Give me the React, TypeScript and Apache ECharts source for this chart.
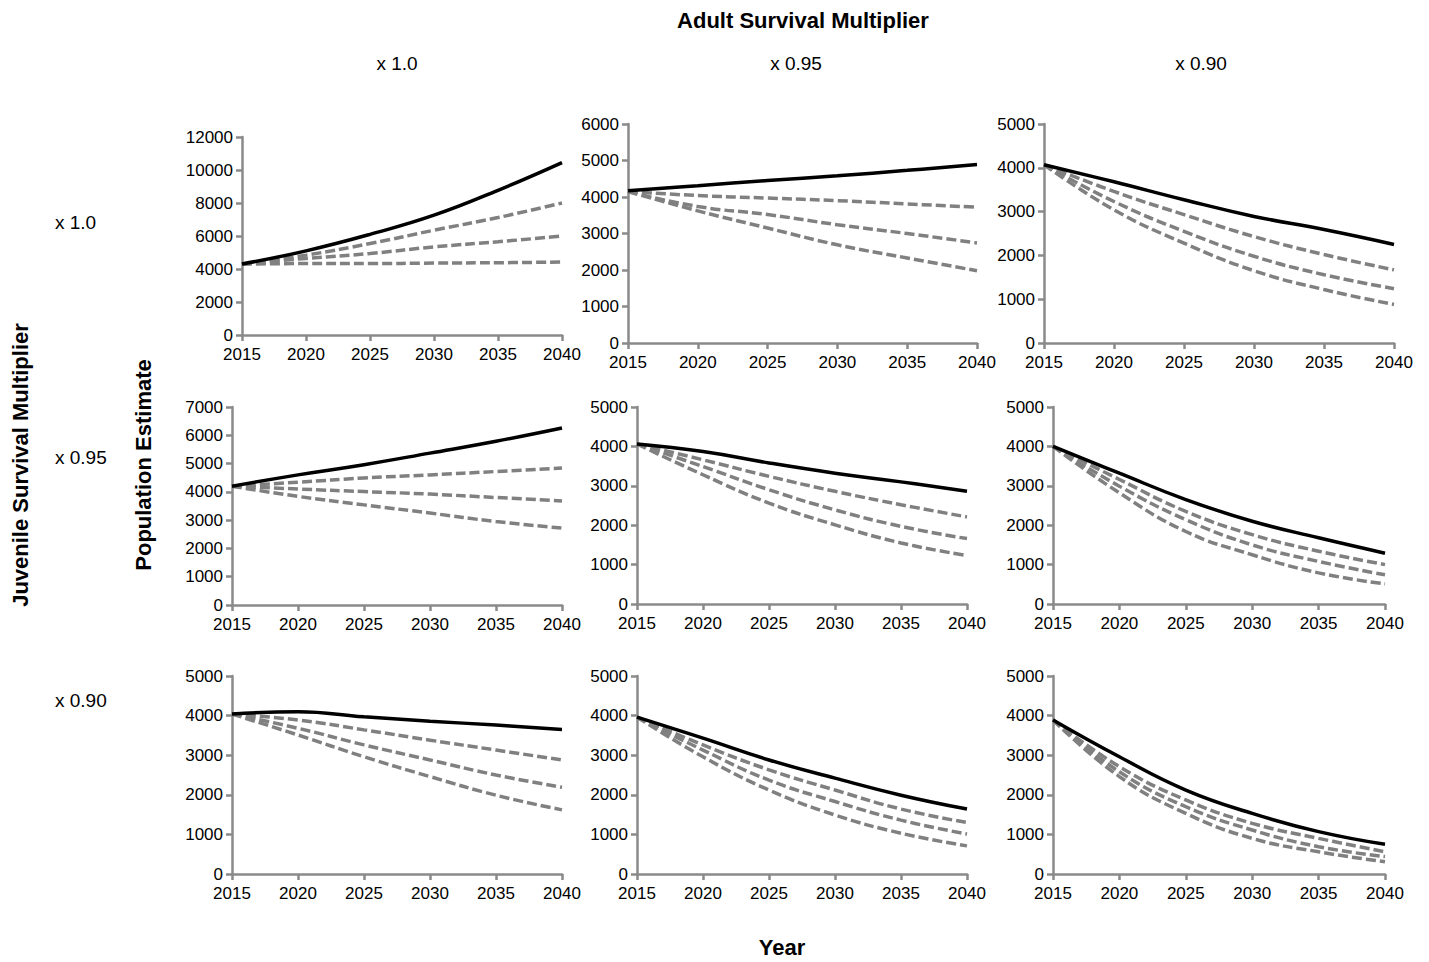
import React, { useEffect, useRef } from "react";
import * as echarts from "echarts";

const years = [2015, 2020, 2025, 2030, 2035, 2040];
const xTicks = [2015, 2020, 2025, 2030, 2035, 2040];

const adultLabels = ["x 1.0", "x 0.95", "x 0.90"];
const juvenileLabels = ["x 1.0", "x 0.95", "x 0.90"];

// Each panel: [black solid, dashed 1 (top), dashed 2, dashed 3 (bottom)]
const juv100_adu100 = [
  [4300, 5100, 6100, 7260, 8770, 10450],
  [4300, 4840, 5540, 6350, 7120, 8000],
  [4300, 4640, 4940, 5340, 5650, 6000],
  [4300, 4330, 4330, 4360, 4380, 4420],
];
const juv100_adu095 = [
  [4170, 4310, 4450, 4580, 4730, 4890],
  [4150, 4040, 3970, 3900, 3810, 3720],
  [4150, 3740, 3520, 3240, 3000, 2740],
  [4150, 3620, 3150, 2690, 2330, 1980],
];
const juv100_adu090 = [
  [4070, 3680, 3270, 2890, 2590, 2250],
  [4070, 3460, 2930, 2430, 2020, 1670],
  [4070, 3230, 2550, 1980, 1560, 1240],
  [4070, 3040, 2280, 1650, 1220, 880],
];
const juv095_adu100 = [
  [4200, 4600, 4960, 5370, 5790, 6260],
  [4200, 4340, 4490, 4600, 4720, 4840],
  [4200, 4100, 4010, 3920, 3800, 3680],
  [4200, 3840, 3540, 3250, 2950, 2720],
];
const juv095_adu095 = [
  [4060, 3870, 3580, 3320, 3100, 2860],
  [4060, 3660, 3240, 2860, 2520, 2210],
  [4060, 3490, 2900, 2390, 1970, 1660],
  [4060, 3280, 2560, 2010, 1550, 1230],
];
const juv095_adu090 = [
  [4000, 3320, 2650, 2100, 1680, 1290],
  [4000, 3160, 2350, 1760, 1340, 1000],
  [4000, 2990, 2140, 1500, 1080, 740],
  [4000, 2820, 1840, 1250, 790, 510],
];
const juv090_adu100 = [
  [4040, 4100, 3970, 3860, 3760, 3650],
  [4040, 3890, 3640, 3380, 3130, 2880],
  [4040, 3680, 3260, 2880, 2500, 2190],
  [4040, 3510, 2960, 2460, 1990, 1620],
];
const juv090_adu095 = [
  [3960, 3430, 2880, 2420, 1990, 1640],
  [3960, 3260, 2630, 2120, 1640, 1300],
  [3960, 3130, 2370, 1830, 1360, 1010],
  [3960, 2960, 2120, 1490, 1030, 710],
];
const juv090_adu090 = [
  [3890, 2960, 2120, 1530, 1070, 750],
  [3890, 2710, 1870, 1280, 900, 560],
  [3890, 2580, 1700, 1110, 690, 440],
  [3890, 2460, 1530, 900, 560, 310],
];

const panels = [
  juv100_adu100, juv100_adu095, juv100_adu090,
  juv095_adu100, juv095_adu095, juv095_adu090,
  juv090_adu100, juv090_adu095, juv090_adu090,
];
const yMax = [12000, 6000, 5000, 7000, 5000, 5000, 5000, 5000, 5000];
const yInterval = [2000, 1000, 1000, 1000, 1000, 1000, 1000, 1000, 1000];

// layout (pixels)
const gridBoxes = [
  { left: 242, top: 137, width: 320, height: 198 },
  { left: 628, top: 124, width: 349, height: 219 },
  { left: 1044, top: 124, width: 350, height: 219 },
  { left: 232, top: 407, width: 330, height: 198 },
  { left: 637, top: 407, width: 330, height: 197 },
  { left: 1053, top: 407, width: 332, height: 197 },
  { left: 232, top: 676, width: 330, height: 198 },
  { left: 637, top: 676, width: 330, height: 198 },
  { left: 1053, top: 676, width: 332, height: 198 },
];

const FONT = '"Liberation Sans", Arial, sans-serif';
const AXIS_COLOR = "#8a8a8a";
const DASH_COLOR = "#808080";

export default function App() {
  const ref = useRef<HTMLDivElement>(null);
  useEffect(() => {
    if (!ref.current) return;
    const chart = echarts.init(ref.current, undefined, { renderer: "svg" });
    const grid = gridBoxes.map((g) => ({ ...g, containLabel: false }));
    const axisLine = { show: true, lineStyle: { color: AXIS_COLOR, width: 2.5 } };
    const axisTick = { show: true, inside: false, length: 6, lineStyle: { color: AXIS_COLOR, width: 2.5 } };
    const xAxis = panels.map((_, i) => ({
      type: "value",
      gridIndex: i,
      min: 2015,
      max: 2040,
      interval: 5,
      axisLine,
      axisTick,
      splitLine: { show: false },
      axisLabel: {
        color: "#000",
        fontSize: 17,
        fontFamily: FONT,
        margin: 11,
        formatter: (v: number) => (xTicks.includes(v) ? String(v) : ""),
      },
    }));
    const yAxis = panels.map((_, i) => ({
      type: "value",
      gridIndex: i,
      min: 0,
      max: yMax[i],
      interval: yInterval[i],
      axisLine,
      axisTick,
      splitLine: { show: false },
      axisLabel: {
        color: "#000",
        fontSize: 17,
        fontFamily: FONT,
        margin: 9,
        formatter: (v: number) => String(v),
      },
    }));
    const series: any[] = [];
    panels.forEach((p, i) => {
      for (let k = 3; k >= 1; k--) {
        series.push({
          type: "line",
          xAxisIndex: i,
          yAxisIndex: i,
          data: years.map((y, j) => [y, p[k][j]]),
          showSymbol: false,
          smooth: 0.45,
          lineStyle: { color: DASH_COLOR, width: 3.5, type: [10, 4] },
        });
      }
      series.push({
        type: "line",
        xAxisIndex: i,
        yAxisIndex: i,
        data: years.map((y, j) => [y, p[0][j]]),
        showSymbol: false,
        smooth: 0.45,
        lineStyle: { color: "#000", width: 3.5 },
      });
    });
    const txt = (text: string, x: number, y: number, font: string, rotation = 0, align = "center") => ({
      type: "text",
      x,
      y,
      rotation,
      style: {
        text,
        fill: "#000",
        font,
        textAlign: align,
        textVerticalAlign: "middle",
        align,
        verticalAlign: "middle",
      },
    });
    const boldFont = `bold 22px ${FONT}`;
    const regFont = `19px ${FONT}`;
    const graphic: any[] = [
      txt("Adult Survival Multiplier", 803, 20, boldFont),
      txt(adultLabels[0], 397, 63, regFont),
      txt(adultLabels[1], 796, 63, regFont),
      txt(adultLabels[2], 1201, 63, regFont),
      txt(juvenileLabels[0], 55, 222, regFont, 0, "left"),
      txt(juvenileLabels[1], 55, 457, regFont, 0, "left"),
      txt(juvenileLabels[2], 55, 700, regFont, 0, "left"),
      txt("Juvenile Survival Multiplier", 20, 465, boldFont, Math.PI / 2),
      txt("Population Estimate", 143, 465, boldFont, Math.PI / 2),
      txt("Year", 782, 947, boldFont),
    ];
    chart.setOption({
      animation: false,
      backgroundColor: "#fff",
      grid,
      xAxis,
      yAxis,
      series,
      graphic,
    });
    return () => chart.dispose();
  }, []);
  return (
    <div
      ref={ref}
      style={{ position: "absolute", left: 0, top: 0, width: 1429, height: 962, background: "#fff" }}
    />
  );
}
